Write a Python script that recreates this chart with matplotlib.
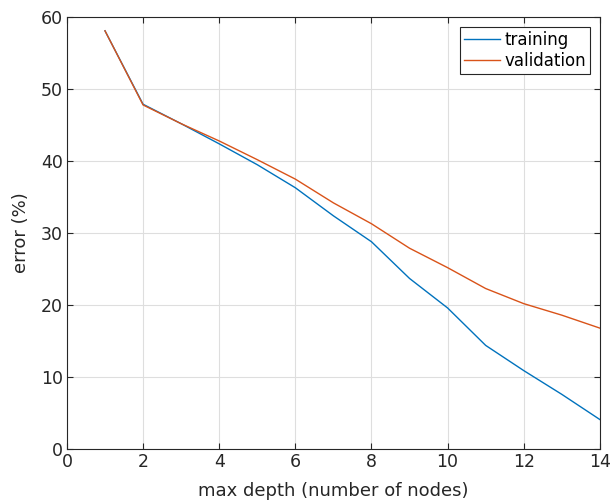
import matplotlib
matplotlib.use('Agg')
import matplotlib.pyplot as plt

# max depth values
depth = [1, 2, 3, 4, 5, 6, 7, 8, 9, 10, 11, 12, 13, 14]
# error (%)
train_err = [58.1, 47.9, 45.2, 42.4, 39.5, 36.3, 32.4, 28.8, 23.7, 19.6, 14.4, 10.9, 7.6, 4.1]
val_err = [58.1, 47.8, 45.2, 42.8, 40.2, 37.5, 34.2, 31.3, 27.9, 25.2, 22.3, 20.2, 18.6, 16.8]

plt.rcParams['font.family'] = 'DejaVu Sans'

fig = plt.figure(figsize=(6.14, 5.04), dpi=100)
ax = fig.add_axes([0.109, 0.109, 0.868, 0.857])

ax.plot(depth, train_err, color='#0072BD', lw=1.0, label='training')
ax.plot(depth, val_err, color='#D95319', lw=1.0, label='validation')

ax.set_xlim(0, 14)
ax.set_ylim(0, 60)
ax.set_xticks(range(0, 15, 2))
ax.set_yticks(range(0, 61, 10))
ax.grid(True, color='#dedede', lw=0.8)
ax.set_axisbelow(True)

ax.tick_params(direction='in', top=True, right=True, length=4, width=0.8,
               labelsize=12.5, colors='#262626', pad=3)
for s in ax.spines.values():
    s.set_color('#262626')
    s.set_linewidth(0.8)

ax.set_xlabel('max depth (number of nodes)', fontsize=13, color='#262626', labelpad=8)
ax.set_ylabel('error (%)', fontsize=13, color='#262626', labelpad=8)

leg = ax.legend(loc='upper right', fontsize=12, fancybox=False, framealpha=1,
                edgecolor='#262626', borderpad=0.25, labelspacing=0.15,
                handlelength=2.15, handletextpad=0.25, borderaxespad=0.6)
leg.get_frame().set_linewidth(0.8)

plt.savefig('out.png', dpi=100)
